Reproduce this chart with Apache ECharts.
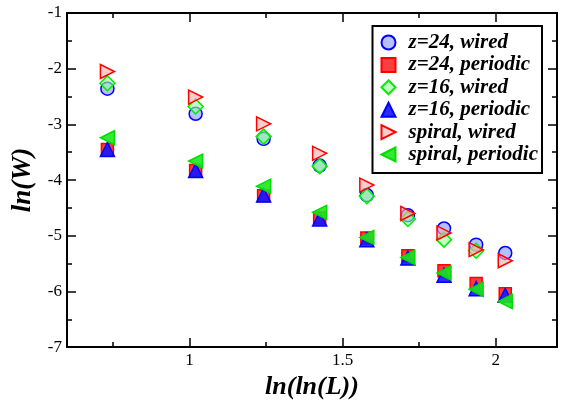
<!DOCTYPE html>
<html>
<head>
<meta charset="utf-8">
<script src="https://cdn.jsdelivr.net/npm/echarts@6/dist/echarts.min.js"></script>
<style>
  html, body { margin: 0; padding: 0; background: #fff; }
  #chart { width: 561px; height: 405px; }
</style>
</head>
<body>
<div id="chart"></div>
<script>
// x = ln(ln(L)) for each system size
const xVals = [0.732, 1.020, 1.242, 1.425, 1.579, 1.713, 1.831, 1.936, 2.031];

// ln(W) per series
const z24Wired       = [-2.36, -2.81, -3.26, -3.74, -4.27, -4.63, -4.87, -5.16, -5.31];
const z24Periodic    = [-3.45, -3.83, -4.28, -4.68, -5.04, -5.36, -5.63, -5.86, -6.04];
const z16Wired       = [-2.26, -2.68, -3.22, -3.75, -4.29, -4.70, -5.07, -5.27, null];
const z16Periodic    = [-3.45, -3.83, -4.27, -4.70, -5.07, -5.40, -5.71, -5.95, -6.07];
const spiralWired    = [-2.05, -2.51, -2.99, -3.52, -4.09, -4.60, -4.95, -5.25, -5.45];
const spiralPeriodic = [-3.24, -3.66, -4.11, -4.58, -5.03, -5.39, -5.67, -5.96, -6.18];

const xMajor = [1, 1.5, 2];
const xMinor = [0.75, 1.25, 1.75];

const serifFont = "Liberation Serif";
const triRight = "path://M0,0 L10,5 L0,10 Z";
const triLeft = "path://M10,0 L0,5 L10,10 Z";

function pairs(ys) {
  return xVals.map((x, i) => [x, ys[i]]).filter(p => p[1] !== null);
}

function mkSeries(name, ys, symbol, size, stroke, fill) {
  return {
    name: name,
    type: "scatter",
    xAxisIndex: 0,
    yAxisIndex: 0,
    symbol: symbol,
    symbolSize: size,
    itemStyle: { color: fill, borderColor: stroke, borderWidth: 1.5, opacity: 1 },
    data: pairs(ys),
  };
}

const tickText = { color: "#000", fontFamily: serifFont, fontSize: 17, fontWeight: "normal", fontStyle: "normal" };

function xAxisCfg(pos, ticks, len, showLabel) {
  return {
    type: "value",
    position: pos,
    min: 0.6,
    max: 2.2,
    axisLine: { show: true, onZero: false, lineStyle: { color: "#000", width: 2 } },
    axisTick: { show: true, inside: true, length: len, customValues: ticks,
      lineStyle: { color: "#000", width: 1.5 } },
    axisLabel: showLabel
      ? Object.assign({ show: true, customValues: ticks, margin: 5, formatter: v => String(v) }, tickText)
      : { show: false },
    splitLine: { show: false },
  };
}

function yAxisCfg(pos, showLabel) {
  return {
    type: "value",
    position: pos,
    min: -7,
    max: -1,
    interval: 1,
    axisLine: { show: true, onZero: false, lineStyle: { color: "#000", width: 2 } },
    axisTick: { show: true, inside: true, length: 9, lineStyle: { color: "#000", width: 1.5 } },
    minorTick: { show: true, splitNumber: 2, length: 5, lineStyle: { color: "#000", width: 1.5 } },
    axisLabel: Object.assign({ show: showLabel, margin: 5 }, tickText),
    splitLine: { show: false },
  };
}

const chart = echarts.init(document.getElementById("chart"));

const bottomMain = xAxisCfg("bottom", xMajor, 9, true);
bottomMain.name = "ln(ln(L))";
bottomMain.nameLocation = "middle";
bottomMain.nameGap = 21;
bottomMain.nameTextStyle = { fontFamily: serifFont, fontWeight: "bold", fontStyle: "italic", fontSize: 26, color: "#000" };

const leftMain = yAxisCfg("left", true);
leftMain.name = "ln(W)";
leftMain.nameLocation = "middle";
leftMain.nameGap = 27;
leftMain.nameTextStyle = { fontFamily: serifFont, fontWeight: "bold", fontStyle: "italic", fontSize: 27, color: "#000" };

const option = {
  animation: false,
  backgroundColor: "#fff",
  textStyle: { fontFamily: serifFont },
  grid: { left: 67, right: 4, top: 13, bottom: 50, containLabel: false },
  xAxis: [
    bottomMain,
    xAxisCfg("bottom", xMinor, 5, false),
    xAxisCfg("top", xMajor, 9, false),
    xAxisCfg("top", xMinor, 5, false),
  ],
  yAxis: [leftMain, yAxisCfg("right", false)],
  legend: {
    orient: "vertical",
    right: 19,
    top: 26,
    backgroundColor: "#fff",
    borderColor: "#000",
    borderWidth: 2,
    borderRadius: 0,
    padding: [6, 4, 8, 8],
    itemWidth: 14,
    itemHeight: 14,
    itemGap: 1.4,
    textStyle: {
      fontFamily: serifFont, fontWeight: "bold", fontStyle: "italic", fontSize: 21,
      color: "#000", padding: [0, 0, 0, 8],
    },
    data: ["z=24, wired", "z=24, periodic", "z=16, wired", "z=16, periodic", "spiral, wired", "spiral, periodic"],
  },
  series: [
    mkSeries("z=24, wired", z24Wired, "circle", 13, "#0000ff", "rgba(120,140,255,0.55)"),
    mkSeries("z=24, periodic", z24Periodic, "rect", 12, "#ff0000", "rgba(255,40,40,0.9)"),
    mkSeries("z=16, wired", z16Wired, "diamond", 15, "#00ee00", "rgba(150,255,150,0.6)"),
    mkSeries("z=16, periodic", z16Periodic, "triangle", 14, "#0000ff", "rgba(20,20,255,0.9)"),
    mkSeries("spiral, wired", spiralWired, triRight, 14, "#ff0000", "rgba(255,170,170,0.6)"),
    mkSeries("spiral, periodic", spiralPeriodic, triLeft, 14, "#00dd00", "rgba(30,230,30,0.9)"),
  ],
};

chart.setOption(option);
</script>
</body>
</html>
